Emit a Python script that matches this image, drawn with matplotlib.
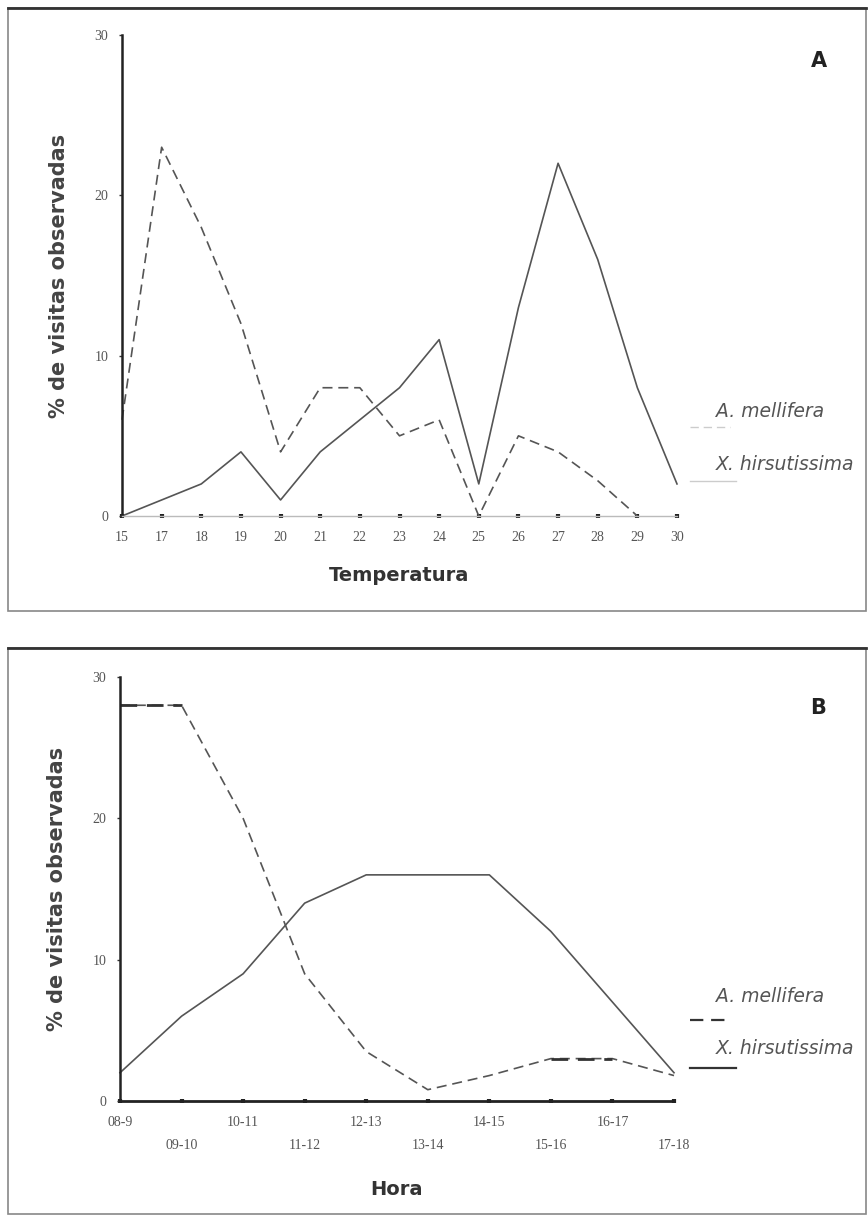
import matplotlib.pyplot as plt
from matplotlib.patches import Rectangle
from matplotlib.lines import Line2D

# panel A: temperatura
temp = ['15', '17', '18', '19', '20', '21', '22', '23', '24', '25', '26', '27', '28', '29', '30']
mell_temp = [6, 23, 18, 12, 4, 8, 8, 5, 6, 0, 5, 4, 2.2, 0]
hirs_temp = [0, 1, 2, 4, 1, 4, 6, 8, 11, 2, 13, 22, 16, 8, 2]

# panel B: hora
hora = ['08-9', '09-10', '10-11', '11-12', '12-13', '13-14', '14-15', '15-16', '16-17', '17-18']
mell_hora = [28, 28, 20, 9, 3.5, 0.8, 1.8, 3, 3, 1.8]
hirs_hora = [2, 6, 9, 14, 16, 16, 16, 12, 7, 2]

W, H = 868, 1216
fig = plt.figure(figsize=(W / 100, H / 100), dpi=100)

gris = '#555555'
serif = ['Liberation Serif', 'DejaVu Serif']


def fx(x):
    return x / W


def fy(y):
    return 1 - y / H


def panel(rect, cats, mell, hirs, xlabel, dark_axis):
    ax = fig.add_axes(rect)
    x = list(range(len(cats)))
    ax.plot(x[:len(mell)], mell, color=gris, lw=1.2, ls=(0, (6, 3.5)), clip_on=False)
    ax.plot(x, hirs, color=gris, lw=1.2, clip_on=False)
    ax.set_xlim(0, len(cats) - 1)
    ax.set_ylim(0, 30)
    ax.set_yticks([0, 10, 20, 30])
    ax.set_xticks(x)
    ax.set_xticklabels(cats)
    for s in ['top', 'right']:
        ax.spines[s].set_visible(False)
    ax.spines['left'].set_color('#222222')
    ax.spines['left'].set_linewidth(1.8)
    if dark_axis:
        ax.spines['bottom'].set_color('#222222')
        ax.spines['bottom'].set_linewidth(2)
    else:
        ax.spines['bottom'].set_color('#bbbbbb')
        ax.spines['bottom'].set_linewidth(1)
    ax.tick_params(axis='y', length=2, width=1, colors='#333333', labelcolor='#555555', pad=8)
    ax.tick_params(axis='x', direction='inout', length=3, width=3, colors='#222222',
                   labelcolor='#555555', pad=9)
    for lab in ax.get_xticklabels() + ax.get_yticklabels():
        lab.set_family(serif)
        lab.set_fontsize(10)
    ax.set_ylabel('% de visitas observadas', fontsize=15, fontweight='bold', color='#444444', labelpad=18)
    ax.set_xlabel(xlabel, fontsize=14, fontweight='bold', color='#333333')
    return ax


# panel A
axA = panel([fx(122), fy(516), fx(677 - 122), (516 - 35) / H], temp, mell_temp, hirs_temp,
            'Temperatura', False)
axA.xaxis.labelpad = 16

# panel B
axB = panel([fx(120), fy(1101), fx(674 - 120), (1101 - 677) / H], hora, mell_hora, hirs_hora,
            'Hora', True)
x = list(range(len(hora)))
# tramos mas oscuros de la linea de trazos
axB.plot(x[0:2], mell_hora[0:2], color='#333333', lw=2, ls=(0, (6, 3.5)))
axB.plot(x[7:9], mell_hora[7:9], color='#333333', lw=2, ls=(0, (6, 3.5)))
for i, t in enumerate(axB.xaxis.get_major_ticks()):
    if i % 2:
        t.set_pad(9 + 17)
axB.xaxis.labelpad = 20

# letras de panel
fig.text(fx(819), fy(61), 'A', fontsize=15, fontweight='bold', color='#222222', ha='center', va='center')
fig.text(fx(818), fy(708), 'B', fontsize=15, fontweight='bold', color='#222222', ha='center', va='center')

# leyendas
leg = [
    (411, 427, 464, 481, '#cccccc', '#cccccc', 1.0),
    (997, 1020, 1048, 1068, '#333333', '#333333', 1.6),
]
for y1, l1, y2, l2, c1, c2, lw in leg:
    fig.text(fx(716), fy(y1), 'A. mellifera', fontsize=13.5, style='italic', color=gris, va='center')
    fig.text(fx(716), fy(y2), 'X. hirsutissima', fontsize=13.5, style='italic', color=gris, va='center')
    fig.add_artist(Line2D([fx(690), fx(730)], [fy(l1), fy(l1)], color=c1, lw=lw, ls=(0, (6, 3.5))))
    fig.add_artist(Line2D([fx(690), fx(736)], [fy(l2), fy(l2)], color=c2, lw=lw))

# marcos de los paneles
fig.add_artist(Rectangle((fx(8), fy(611)), fx(866 - 8), (611 - 8) / H, fill=False,
                         ec='#888888', lw=1.2))
fig.add_artist(Line2D([fx(8), fx(866)], [fy(8), fy(8)], color='#333333', lw=2))
fig.add_artist(Rectangle((fx(8), fy(1214)), fx(866 - 8), (1214 - 648) / H, fill=False,
                         ec='#888888', lw=1.2))
fig.add_artist(Line2D([fx(8), fx(866)], [fy(648), fy(648)], color='#333333', lw=2))

fig.savefig('out.png', dpi=100)
